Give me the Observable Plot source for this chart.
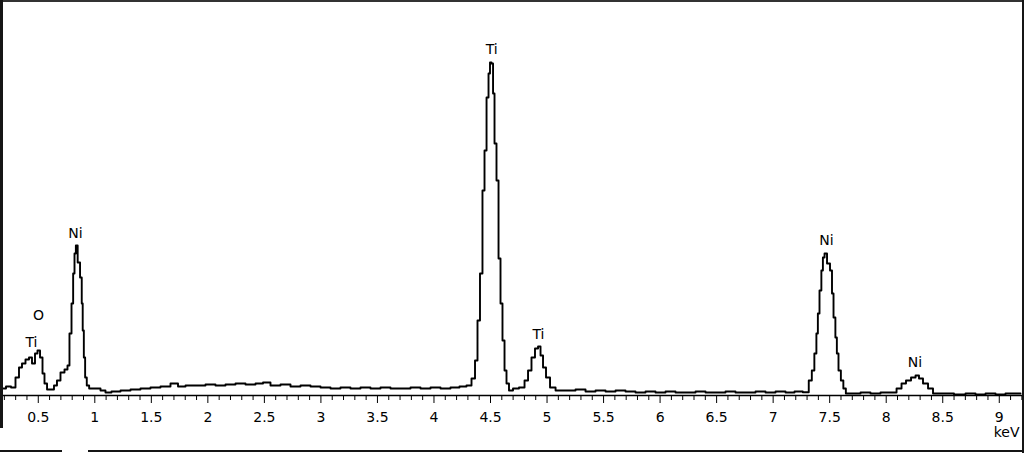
<!DOCTYPE html>
<html>
<head>
<meta charset="utf-8">
<script src="https://cdn.jsdelivr.net/npm/d3@7"></script>
<script src="https://cdn.jsdelivr.net/npm/@observablehq/plot@0.6"></script>
<style>
  html, body { margin: 0; padding: 0; background: #fff; }
  #wrap { position: relative; width: 1024px; height: 453px; overflow: hidden; }
  #wrap svg { display: block; }
  .b { position: absolute; background: #151515; }
</style>
</head>
<body>
<div id="wrap">
  <div class="b" style="left:0;top:0;width:1024px;height:2px;background:#333;"></div>
  <div class="b" style="left:0;top:0;width:3px;height:428px;"></div>
  <div class="b" style="right:0;top:0;width:2px;height:453px;"></div>
  <div class="b" style="left:0;bottom:1px;width:62px;height:2px;"></div>
  <div class="b" style="left:88px;bottom:1px;width:936px;height:2px;"></div>
</div>
<script>
// Spectrum (energy in keV, counts in arbitrary units)
const energy = [
  0.192,0.237,0.281,0.316,0.343,0.369,0.405,0.431,0.458,0.484,0.502,0.529,0.546,0.564,0.591,0.626,0.652,0.679,0.714,0.750,0.767,
  0.785,0.803,0.814,0.827,0.838,0.859,0.880,0.889,0.897,0.909,0.920,0.938,0.962,1.024,1.077,1.112,1.183,1.272,1.360,1.448,1.537,
  1.625,1.714,1.758,1.847,1.935,2.023,2.112,2.200,2.289,2.377,2.466,2.510,2.598,2.687,2.775,2.864,2.952,3.041,3.129,3.217,3.306,
  3.394,3.483,3.571,3.660,3.748,3.837,3.925,4.014,4.102,4.190,4.261,4.314,
  4.350,4.376,4.394,4.420,4.438,4.456,4.474,4.491,4.500,4.518,4.527,4.544,4.562,4.580,4.597,4.615,4.633,4.650,4.677,4.721,4.783,
  4.819,4.845,4.880,4.907,4.934,4.951,4.978,5.004,5.049,5.102,5.208,5.296,5.385,5.473,5.562,5.650,5.738,5.827,5.915,6.004,6.092,
  6.181,6.269,6.358,6.446,6.534,6.623,6.711,6.800,6.888,6.977,7.065,7.154,7.224,
  7.300,7.330,7.354,7.375,7.390,7.401,7.419,7.434,7.446,7.463,7.490,7.516,7.525,7.543,7.558,7.569,7.587,7.611,7.631,7.655,
  7.729,7.817,7.905,7.994,8.065,8.118,8.153,8.197,8.242,8.277,8.303,8.348,8.392,8.436,8.542,8.657,8.746,8.834,8.923,9.011,9.099,9.188
];
const counts = [
  70,90,80,180,280,320,360,380,320,420,450,380,220,120,60,60,100,150,230,260,300,
  620,920,1220,1420,1500,1330,1180,920,650,380,180,100,70,70,50,30,40,50,60,70,80,
  90,120,90,100,100,110,100,110,120,110,120,130,100,110,90,100,90,80,70,80,70,
  80,70,80,70,70,80,70,80,70,80,90,100,
  170,350,750,1220,2050,2450,2980,3220,3330,3320,3020,2520,2150,1370,920,550,250,120,50,70,80,
  150,250,380,470,490,400,280,180,80,50,50,60,40,50,40,50,40,30,40,30,40,
  30,30,40,30,30,40,30,30,40,30,40,30,40,
  33,150,250,420,620,820,1050,1250,1380,1420,1320,1250,1020,780,580,420,250,150,70,20,
  20,30,20,30,30,70,120,150,180,200,170,120,70,20,20,10,20,10,20,10,20,20
];

// Peak labels
const peakNames = ["Ti", "O", "Ni", "Ti", "Ti", "Ni", "Ni"];
const peakEnergies = [0.440, 0.502, 0.829, 4.511, 4.924, 7.472, 8.255];
const peakLabelCounts = [530, 800, 1620, 3460, 610, 1545, 330];

// Axis
const tickValues = [0.5,1,1.5,2,2.5,3,3.5,4,4.5,5,5.5,6,6.5,7,7.5,8,8.5,9];
const tickLabels = ["0.5","1","1.5","2","2.5","3","3.5","4","4.5","5","5.5","6","6.5","7","7.5","8","8.5","9"];
const minorTicks = [0.2,0.3,0.4,0.6,0.7,0.8,0.9,1.1,1.2,1.3,1.4,1.6,1.7,1.8,1.9,2.1,2.2,2.3,2.4,2.6,2.7,2.8,2.9,
  3.1,3.2,3.3,3.4,3.6,3.7,3.8,3.9,4.1,4.2,4.3,4.4,4.6,4.7,4.8,4.9,5.1,5.2,5.3,5.4,5.6,5.7,5.8,5.9,
  6.1,6.2,6.3,6.4,6.6,6.7,6.8,6.9,7.1,7.2,7.3,7.4,7.6,7.7,7.8,7.9,8.1,8.2,8.3,8.4,8.6,8.7,8.8,8.9,9.1,9.2];
const unitLabel = "keV";

const spectrum = energy.map((e, i) => ({e, c: counts[i]}));
const peaks = peakNames.map((n, i) => ({n, e: peakEnergies[i], c: peakLabelCounts[i]}));

const chart = Plot.plot({
  width: 1024,
  height: 453,
  marginLeft: 2,
  marginRight: 2,
  marginTop: 1,
  marginBottom: 58,
  style: {fontFamily: "'DejaVu Sans', sans-serif", fontSize: "14px", color: "#000", background: "transparent"},
  x: {domain: [0.1836, 9.2055], label: null},
  y: {domain: [0, 3940], axis: null},
  marks: [
    Plot.axisX(minorTicks, {tickSize: 5, tickFormat: () => "", label: null, stroke: "#000"}),
    Plot.axisX(tickValues, {tickSize: 8, tickPadding: 9, label: null, stroke: "#000", fill: "#000",
      fontSize: 14, tickFormat: (d) => tickLabels[tickValues.indexOf(d)]}),
    Plot.ruleY([0], {stroke: "#000", strokeWidth: 1.5}),
    Plot.line(spectrum, {x: "e", y: "c", curve: "step", stroke: "#000", strokeWidth: 1.9}),
    Plot.text(peaks, {x: "e", y: "c", text: "n", fill: "#000", fontSize: 14}),
    Plot.text([unitLabel], {frameAnchor: "bottom-right", text: d => d, textAnchor: "end", dx: -3, dy: 41, fill: "#000", fontSize: 14})
  ]
});
document.getElementById("wrap").prepend(chart);
</script>
</body>
</html>
